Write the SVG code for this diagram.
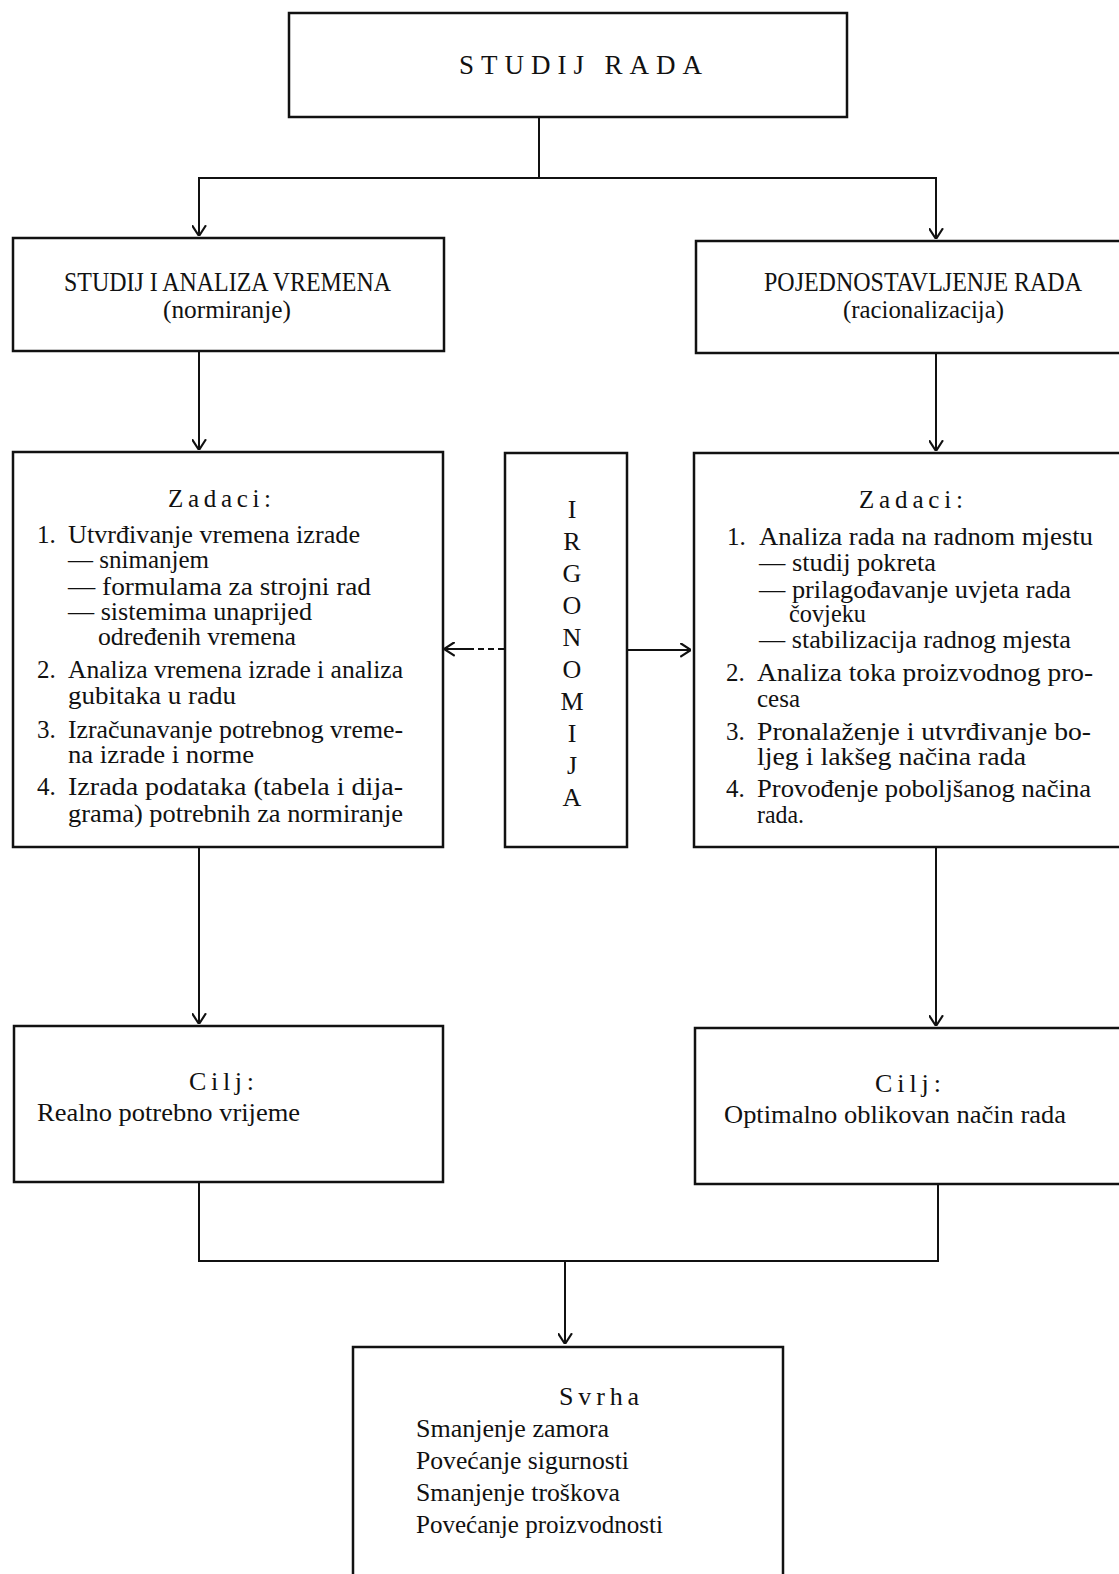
<svg xmlns="http://www.w3.org/2000/svg" width="1119" height="1574" viewBox="0 0 1119 1574">
<defs>
<style>
.box{fill:#fff;stroke:#111;stroke-width:2.5}
.ln{fill:none;stroke:#111;stroke-width:2}
.t{font-family:"Liberation Serif","Times New Roman",serif;font-size:25px;fill:#111}
.h{font-family:"Liberation Serif","Times New Roman",serif;font-size:27px;fill:#111}
.s{font-family:"Liberation Serif","Times New Roman",serif;font-size:26px;fill:#111}
.c{text-anchor:middle}
</style>
<marker id="ah" viewBox="0 0 10 14" refX="10" refY="7" markerWidth="11" markerHeight="15" markerUnits="userSpaceOnUse" orient="auto">
<path d="M0,0.5 L10,7 L0,13.5" fill="none" stroke="#111" stroke-width="2"/>
</marker>
</defs>
<rect width="1119" height="1574" fill="#fff"/>

<g id="connectors">
<path class="ln" d="M539,117 V178"/>
<path class="ln" d="M539,178 H199 V236" marker-end="url(#ah)"/>
<path class="ln" d="M539,178 H936 V239" marker-end="url(#ah)"/>
<path class="ln" d="M199,351 V450" marker-end="url(#ah)"/>
<path class="ln" d="M936,353 V451" marker-end="url(#ah)"/>
<path class="ln" d="M470,649 H444" marker-end="url(#ah)"/>
<path class="ln" d="M504,649 H470" stroke-dasharray="6,4"/>
<path class="ln" d="M628,650 H691" marker-end="url(#ah)"/>
<path class="ln" d="M199,847 V1024" marker-end="url(#ah)"/>
<path class="ln" d="M936,847 V1026" marker-end="url(#ah)"/>
<path class="ln" d="M199,1182 V1261 H938 V1184"/>
<path class="ln" d="M565,1261 V1344" marker-end="url(#ah)"/>
</g>

<g id="studij-rada">
<rect class="box" x="289" y="13" width="558" height="104"/>
<text class="h" x="459" y="74" textLength="243" lengthAdjust="spacing">STUDIJ RADA</text>
</g>

<g id="studij-analiza">
<rect class="box" x="13" y="238" width="431" height="113"/>
<text class="h" x="64" y="291" textLength="327" lengthAdjust="spacingAndGlyphs">STUDIJ I ANALIZA VREMENA</text>
<text class="s" x="163" y="318" textLength="128" lengthAdjust="spacingAndGlyphs">(normiranje)</text>
</g>

<g id="pojednostavljenje">
<rect class="box" x="696" y="241" width="440" height="112"/>
<text class="h" x="764" y="291" textLength="318" lengthAdjust="spacingAndGlyphs">POJEDNOSTAVLJENJE  RADA</text>
<text class="s" x="843" y="318" textLength="161" lengthAdjust="spacingAndGlyphs">(racionalizacija)</text>
</g>

<g id="zadaci-lijevo">
<rect class="box" x="13" y="452" width="430" height="395"/>
<text class="t" x="168" y="507" textLength="103" lengthAdjust="spacing">Zadaci:</text>
<text class="t" x="37" y="543">1.</text>
<text class="t" x="68" y="543" textLength="292" lengthAdjust="spacingAndGlyphs">Utvrđivanje vremena izrade</text>
<text class="t" x="68" y="568" textLength="141" lengthAdjust="spacingAndGlyphs">— snimanjem</text>
<text class="t" x="68" y="595" textLength="303" lengthAdjust="spacingAndGlyphs">— formulama za strojni rad</text>
<text class="t" x="68" y="620" textLength="244" lengthAdjust="spacingAndGlyphs">— sistemima unaprijed</text>
<text class="t" x="98" y="645" textLength="198" lengthAdjust="spacingAndGlyphs">određenih vremena</text>
<text class="t" x="37" y="678">2.</text>
<text class="t" x="68" y="678" textLength="335" lengthAdjust="spacingAndGlyphs">Analiza vremena izrade i analiza</text>
<text class="t" x="68" y="704" textLength="168" lengthAdjust="spacingAndGlyphs">gubitaka u radu</text>
<text class="t" x="37" y="738">3.</text>
<text class="t" x="68" y="738" textLength="335" lengthAdjust="spacingAndGlyphs">Izračunavanje potrebnog vreme-</text>
<text class="t" x="68" y="763" textLength="186" lengthAdjust="spacingAndGlyphs">na izrade i norme</text>
<text class="t" x="37" y="795">4.</text>
<text class="t" x="68" y="795" textLength="335" lengthAdjust="spacingAndGlyphs">Izrada podataka (tabela i dija-</text>
<text class="t" x="68" y="822" textLength="335" lengthAdjust="spacingAndGlyphs">grama) potrebnih za normiranje</text>
</g>

<g id="irgonomija">
<rect class="box" x="505" y="453" width="122" height="394"/>
<g class="s c">
<text x="572" y="518">I</text>
<text x="572" y="550">R</text>
<text x="572" y="582">G</text>
<text x="572" y="614">O</text>
<text x="572" y="646">N</text>
<text x="572" y="678">O</text>
<text x="572" y="710">M</text>
<text x="572" y="742">I</text>
<text x="572" y="774">J</text>
<text x="572" y="806">A</text>
</g>
</g>

<g id="zadaci-desno">
<rect class="box" x="694" y="453" width="440" height="394"/>
<text class="t" x="859" y="508" textLength="104" lengthAdjust="spacing">Zadaci:</text>
<text class="t" x="727" y="545">1.</text>
<text class="t" x="759" y="545" textLength="334" lengthAdjust="spacingAndGlyphs">Analiza rada na radnom mjestu</text>
<text class="t" x="759" y="571" textLength="177" lengthAdjust="spacingAndGlyphs">— studij pokreta</text>
<text class="t" x="759" y="598" textLength="312" lengthAdjust="spacingAndGlyphs">— prilagođavanje uvjeta rada</text>
<text class="t" x="789" y="622" textLength="77" lengthAdjust="spacingAndGlyphs">čovjeku</text>
<text class="t" x="759" y="648" textLength="312" lengthAdjust="spacingAndGlyphs">— stabilizacija radnog mjesta</text>
<text class="t" x="726" y="681">2.</text>
<text class="t" x="757" y="681" textLength="336" lengthAdjust="spacingAndGlyphs">Analiza toka proizvodnog pro-</text>
<text class="t" x="757" y="707" textLength="43" lengthAdjust="spacingAndGlyphs">cesa</text>
<text class="t" x="726" y="740">3.</text>
<text class="t" x="757" y="740" textLength="334" lengthAdjust="spacingAndGlyphs">Pronalaženje i utvrđivanje bo-</text>
<text class="t" x="757" y="765" textLength="269" lengthAdjust="spacingAndGlyphs">ljeg i lakšeg načina rada</text>
<text class="t" x="726" y="797">4.</text>
<text class="t" x="757" y="797" textLength="334" lengthAdjust="spacingAndGlyphs">Provođenje poboljšanog načina</text>
<text class="t" x="757" y="823" textLength="47" lengthAdjust="spacingAndGlyphs">rada.</text>
</g>

<g id="cilj-lijevo">
<rect class="box" x="14" y="1026" width="429" height="156"/>
<text class="s" x="189" y="1090" textLength="65" lengthAdjust="spacing">Cilj:</text>
<text class="s" x="37" y="1121" textLength="263" lengthAdjust="spacingAndGlyphs">Realno potrebno vrijeme</text>
</g>

<g id="cilj-desno">
<rect class="box" x="695" y="1028" width="440" height="156"/>
<text class="s" x="875" y="1092" textLength="66" lengthAdjust="spacing">Cilj:</text>
<text class="s" x="724" y="1123" textLength="342" lengthAdjust="spacingAndGlyphs">Optimalno oblikovan način rada</text>
</g>

<g id="svrha">
<rect class="box" x="353" y="1347" width="430" height="235"/>
<text class="s" x="559" y="1405" textLength="80" lengthAdjust="spacing">Svrha</text>
<text class="s" x="416" y="1437" textLength="193" lengthAdjust="spacingAndGlyphs">Smanjenje zamora</text>
<text class="s" x="416" y="1469" textLength="213" lengthAdjust="spacingAndGlyphs">Povećanje sigurnosti</text>
<text class="s" x="416" y="1501" textLength="204" lengthAdjust="spacingAndGlyphs">Smanjenje troškova</text>
<text class="s" x="416" y="1533" textLength="247" lengthAdjust="spacingAndGlyphs">Povećanje proizvodnosti</text>
</g>
</svg>
